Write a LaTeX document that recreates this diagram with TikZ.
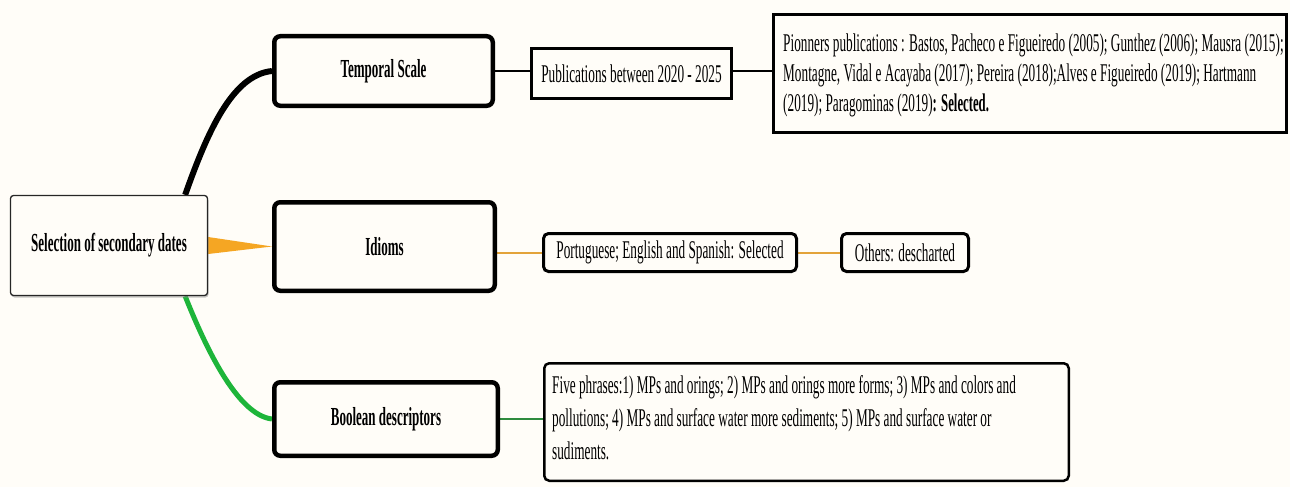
\documentclass[tikz,border=0pt]{standalone}
\usepackage{fontspec}
\setmainfont{Liberation Serif}[FakeStretch=0.52, BoldFeatures={FakeStretch=0.5}]
\usetikzlibrary{shadows}
\definecolor{bgc}{HTML}{FFFDF8}
\definecolor{borange}{HTML}{F5A623}
\definecolor{bgreen}{HTML}{1DB53A}
\definecolor{lorange}{HTML}{E3A33A}
\definecolor{lgreen}{HTML}{2E8B3E}
\pgfdeclarelayer{bottom}
\pgfdeclarelayer{back}
\pgfsetlayers{bottom,back,main}
\tikzset{
  basebox/.style={fill=bgc, inner sep=0pt, font=\fontsize{25.5}{30}\selectfont},
  rootbox/.style={basebox, draw=black!85, line width=1.3pt, rounded corners=3pt,
     font=\fontsize{26}{30}\selectfont\bfseries,
     drop shadow={shadow xshift=1pt, shadow yshift=-2pt, fill=black!45}},
  mainbox/.style={basebox, draw=black, line width=4.5pt, rounded corners=6pt,
     font=\fontsize{26}{30}\selectfont\bfseries},
  squarebox/.style={basebox, draw=black, line width=3pt},
  roundbox/.style={basebox, draw=black, line width=3pt, rounded corners=5pt},
  listtext/.style={anchor=west, align=left, inner sep=0pt, fill=none},
  thinlink/.style={line width=2pt},
}
\begin{document}
\begin{tikzpicture}[x=1pt,y=-1pt]
\useasboundingbox (0,0) rectangle (1290,487);
\begin{pgfonlayer}{bottom}
\fill[bgc] (0,0) rectangle (1290,487);
\end{pgfonlayer}

\node[rootbox, minimum width=197pt, minimum height=100pt] (root) at (109,245.5) {Selection of secondary dates};

\node[mainbox, minimum width=218.5pt, minimum height=69.5pt] (temporal) at (383.5,71) {Temporal Scale};
\node[mainbox, minimum width=220.5pt, minimum height=88.5pt] (idioms) at (384.5,246.5) {Idioms};
\node[mainbox, minimum width=223.5pt, minimum height=73.5pt] (boolean) at (386,419) {Boolean descriptors};

\node[squarebox, minimum width=200pt, minimum height=50pt] (pub) at (631.5,73.5) {Publications between 2020 - 2025};
\node[squarebox, minimum width=513pt, minimum height=118pt,
  label={[listtext, font=\fontsize{25.5}{30}\selectfont, xshift=11pt, yshift=-1.5pt]west:{%
  Pionners publications : Bastos, Pacheco e Figueiredo (2005); Gunthez (2006); Mausra (2015);\\
  Montagne, Vidal e Acayaba (2017); Pereira (2018);Alves e Figueiredo (2019); Hartmann\\
  (2019); Paragominas (2019)\textbf{: Selected.}}}] (pion) at (1030,73.5) {};

\node[roundbox, minimum width=253pt, minimum height=38pt] (port) at (670,252.5) {Portuguese; English and Spanish: Selected};
\node[roundbox, minimum width=127pt, minimum height=38pt] (others) at (905,252.5) {Others: descharted};

\node[roundbox, line width=2.5pt, minimum width=524.5pt, minimum height=117.5pt,
  label={[listtext, font=\fontsize{25.5}{33}\selectfont, xshift=9pt, yshift=4pt]west:{%
  Five phrases:1) MPs and orings; 2) MPs and orings more forms; 3) MPs and colors and\\
  pollutions; 4) MPs and surface water more sediments; 5) MPs and surface water or\\
  sudiments.}}] (five) at (806.5,422) {};

\begin{pgfonlayer}{back}
\draw[line width=6pt, black] ([xshift=-23pt]root.north east)
   .. controls +(22,-62) and +(-40,4) .. (temporal.west);
\fill[borange] ([yshift=8.5pt]root.east) -- (idioms.west) -- ([yshift=-8.5pt]root.east) -- cycle;
\draw[line width=5pt, bgreen] ([xshift=-23pt]root.south east)
   .. controls +(20,50) and +(-35,-4) .. (boolean.west);
\draw[thinlink, black] (temporal.east) -- (temporal.east -| pub.west);
\draw[thinlink, black] (pub.east |- temporal.east) -- (pion.west |- temporal.east);
\draw[thinlink, lorange] (idioms.east |- port.west) -- (port.west);
\draw[thinlink, lorange] (port.east) -- (others.west);
\draw[thinlink, lgreen] (boolean.east) -- (five.west |- boolean.east);
\end{pgfonlayer}
\end{tikzpicture}
\end{document}
